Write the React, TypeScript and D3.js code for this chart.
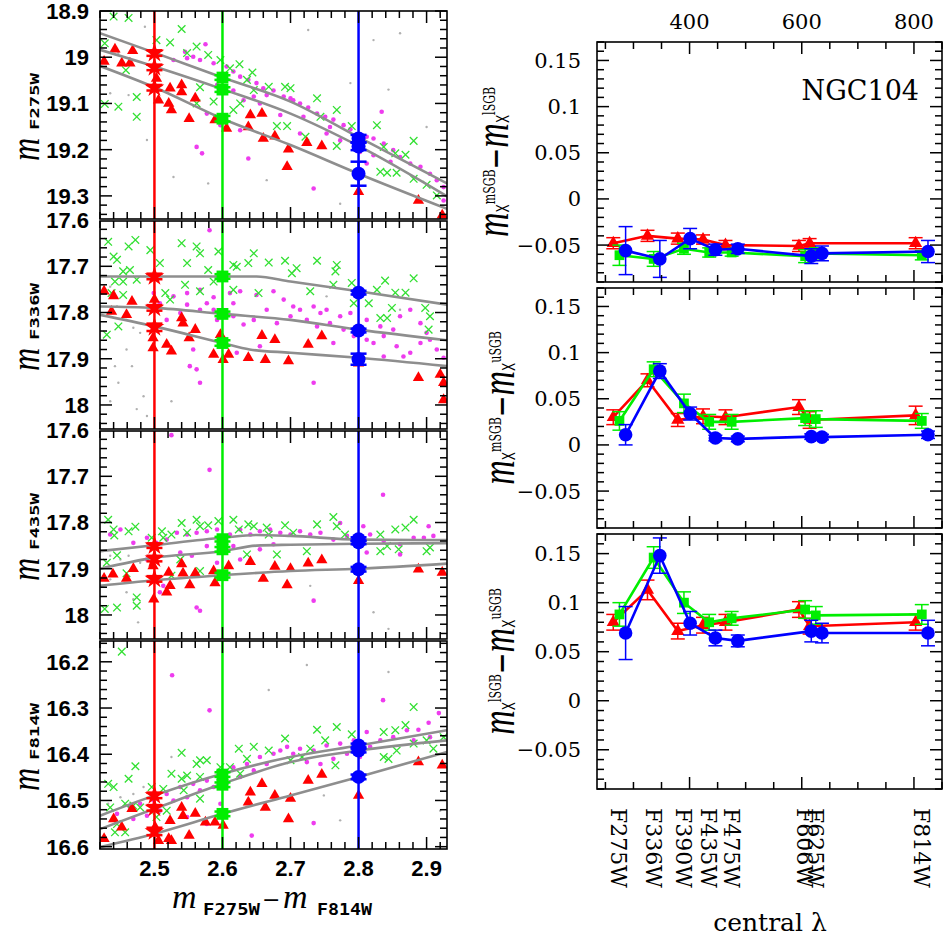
import React from "react";
import * as d3 from "d3";

// ---------------- DATA ----------------
// reference colours (m_F275W - m_F814W) of the three vertical lines
const refColors = [2.5, 2.6, 2.8];

// ---- left panel 1 : m_F275W ----
const f275Cross = [[2.440,18.912],[2.462,18.915],[2.540,18.939],[2.503,18.963],[2.523,18.968],[2.427,18.970],[2.458,19.028],[2.474,19.086],[2.447,19.107],[2.427,19.101],[2.474,19.129],[2.562,18.977],[2.548,18.991],[2.579,18.995],[2.597,19.006],[2.625,19.015],[2.644,19.033],[2.636,19.049],[2.611,19.024],[2.668,19.064],[2.692,19.064],[2.646,19.071],[2.700,19.067],[2.567,19.065],[2.562,19.100],[2.587,19.096],[2.616,19.114],[2.626,19.100],[2.680,19.149],[2.739,19.089],[2.744,19.129],[2.768,19.114],[2.695,19.149],[2.722,19.172],[2.768,19.192],[2.790,19.149],[2.827,19.147],[2.837,19.194],[2.854,19.208],[2.869,19.211],[2.881,19.181],[2.832,19.248],[2.842,19.250],[2.856,19.250],[2.881,19.263],[2.900,19.276],[2.915,19.299]];
const f275Dots = [[2.575,18.972],[2.545,18.988],[2.557,18.999],[2.567,19.006],[2.587,19.013],[2.606,19.020],[2.616,19.031],[2.626,19.042],[2.638,19.049],[2.650,19.056],[2.660,19.067],[2.675,19.072],[2.690,19.085],[2.700,19.089],[2.714,19.100],[2.726,19.109],[2.739,19.122],[2.751,19.129],[2.763,19.135],[2.778,19.147],[2.788,19.156],[2.812,19.172],[2.822,19.176],[2.837,19.187],[2.851,19.201],[2.861,19.216],[2.876,19.230],[2.891,19.237],[2.905,19.252],[2.915,19.266],[2.925,19.281],[2.925,19.310],[2.562,19.194],[2.570,19.208],[2.638,19.219],[2.734,19.284],[2.812,19.230],[2.834,19.118],[2.847,19.226],[2.592,19.060],[2.616,19.072],[2.655,19.100],[2.685,19.125],[2.704,19.093],[2.719,19.129],[2.758,19.151],[2.802,19.205],[2.822,19.212],[2.665,19.082],[2.606,19.049],[2.548,19.002],[2.528,19.006],[2.646,19.085],[2.631,19.093],[2.577,19.122],[2.597,19.147],[2.626,19.158],[2.714,19.165],[2.753,19.165],[2.773,19.180]];
const f275Tri = [[2.426,19.009],[2.442,18.983],[2.452,19.013],[2.464,19.013],[2.468,18.986],[2.503,19.046],[2.506,19.093],[2.521,19.100],[2.523,19.067],[2.525,19.114],[2.540,19.060],[2.540,19.075],[2.551,19.133],[2.560,19.089],[2.589,19.136],[2.606,19.154],[2.638,19.151],[2.641,19.125],[2.658,19.122],[2.660,19.176],[2.677,19.171],[2.697,19.199],[2.695,19.237],[2.724,19.185],[2.746,19.192],[2.800,19.291],[2.888,19.310],[2.923,19.342]];
const f275Gray = [[2.486,18.934],[2.726,18.941],[2.844,19.070],[2.822,18.963],[2.528,19.259],[2.665,19.266],[2.579,19.273],[2.773,19.317],[2.462,19.082],[2.447,18.991],[2.435,19.078],[2.489,19.179],[2.900,19.151],[2.788,19.056],[2.861,18.948]];
const f275Fid = [
  [[2.42,18.948],[2.5,18.990],[2.6,19.044],[2.7,19.096],[2.8,19.173],[2.93,19.273]],
  [[2.42,18.984],[2.5,19.020],[2.6,19.069],[2.7,19.122],[2.8,19.192],[2.93,19.301]],
  [[2.42,19.019],[2.5,19.065],[2.6,19.133],[2.7,19.190],[2.8,19.252],[2.93,19.328]],
];
const f275BigR = [[18.991,0.006],[19.022,0.006],[19.066,0.006]];
const f275BigG = [[19.044,0.005],[19.070,0.005],[19.133,0.006]];
const f275BigB = [[19.176,0.008],[19.193,0.008],[19.252,0.026]];

// ---- left panel 2 : m_F336W ----
const f336Cross = [[2.432,17.647],[2.462,17.657],[2.472,17.643],[2.440,17.679],[2.445,17.686],[2.454,17.711],[2.464,17.708],[2.442,17.733],[2.454,17.733],[2.474,17.729],[2.437,17.758],[2.454,17.762],[2.430,17.848],[2.447,17.830],[2.494,17.665],[2.508,17.693],[2.523,17.772],[2.516,17.758],[2.540,17.650],[2.548,17.693],[2.562,17.657],[2.567,17.672],[2.579,17.708],[2.594,17.668],[2.616,17.697],[2.621,17.701],[2.638,17.693],[2.646,17.672],[2.668,17.692],[2.692,17.688],[2.702,17.715],[2.709,17.704],[2.739,17.688],[2.768,17.697],[2.766,17.711],[2.763,17.740],[2.790,17.736],[2.815,17.780],[2.827,17.751],[2.839,17.731],[2.854,17.757],[2.869,17.757],[2.881,17.726],[2.849,17.790],[2.832,17.812],[2.842,17.812],[2.898,17.790],[2.903,17.837],[2.905,17.808],[2.653,17.758],[2.587,17.733],[2.616,17.751],[2.567,17.754],[2.729,17.754],[2.545,17.740],[2.793,17.780]];
const f336Dots = [[2.581,17.622],[2.499,17.758],[2.528,17.765],[2.548,17.758],[2.567,17.751],[2.587,17.767],[2.611,17.758],[2.626,17.754],[2.650,17.762],[2.675,17.754],[2.690,17.772],[2.704,17.787],[2.714,17.794],[2.734,17.787],[2.744,17.801],[2.753,17.794],[2.773,17.808],[2.788,17.801],[2.812,17.816],[2.832,17.830],[2.851,17.837],[2.861,17.808],[2.876,17.794],[2.891,17.823],[2.905,17.859],[2.915,17.880],[2.925,17.898],[2.518,17.816],[2.538,17.801],[2.548,17.783],[2.567,17.794],[2.577,17.780],[2.592,17.816],[2.616,17.808],[2.631,17.826],[2.646,17.816],[2.665,17.794],[2.680,17.823],[2.700,17.808],[2.724,17.816],[2.739,17.830],[2.758,17.823],[2.778,17.837],[2.793,17.851],[2.812,17.859],[2.822,17.866],[2.837,17.851],[2.856,17.873],[2.876,17.887],[2.891,17.866],[2.557,17.880],[2.552,17.916],[2.567,17.952],[2.562,17.923],[2.621,17.887],[2.655,17.873],[2.734,17.952],[2.763,17.866],[2.837,17.895],[2.866,17.895],[2.900,17.844],[2.508,17.780],[2.587,17.794],[2.616,17.780]];
const f336Tri = [[2.426,17.754],[2.440,17.764],[2.437,17.798],[2.459,17.805],[2.467,17.776],[2.500,17.772],[2.498,17.855],[2.498,17.877],[2.518,17.869],[2.525,17.884],[2.540,17.812],[2.542,17.823],[2.551,17.855],[2.560,17.837],[2.587,17.891],[2.597,17.848],[2.601,17.902],[2.609,17.891],[2.638,17.898],[2.663,17.902],[2.658,17.850],[2.677,17.859],[2.697,17.905],[2.726,17.869],[2.746,17.851],[2.800,17.910],[2.888,17.941],[2.920,17.934],[2.925,17.952],[2.925,17.989]];
const f336Gray = [[2.435,17.744],[2.445,17.787],[2.459,17.816],[2.469,17.833],[2.479,17.844],[2.442,17.916],[2.459,17.880],[2.447,17.952],[2.467,17.916],[2.484,17.981],[2.525,17.992],[2.474,18.009],[2.489,18.024],[2.435,17.992],[2.753,17.765],[2.861,17.794]];
const f336Fid = [
  [[2.42,17.722],[2.5,17.722],[2.6,17.722],[2.65,17.722],[2.7,17.733],[2.8,17.754],[2.93,17.783]],
  [[2.42,17.787],[2.5,17.790],[2.6,17.803],[2.7,17.816],[2.8,17.837],[2.93,17.860]],
  [[2.42,17.805],[2.5,17.830],[2.6,17.866],[2.64,17.880],[2.7,17.887],[2.8,17.898],[2.93,17.916]],
];
const f336BigR = [[17.722,0.006],[17.790,0.006],[17.832,0.008]];
const f336BigG = [[17.722,0.005],[17.803,0.005],[17.866,0.006]];
const f336BigB = [[17.757,0.004],[17.839,0.004],[17.901,0.012]];

// ---- left panel 3 : m_F435W ----
const f435Cross = [[2.432,17.794],[2.440,17.815],[2.441,17.828],[2.462,17.819],[2.472,17.809],[2.445,17.871],[2.430,17.887],[2.459,17.910],[2.427,17.987],[2.445,17.984],[2.474,17.962],[2.474,17.980],[2.496,17.833],[2.511,17.819],[2.513,17.833],[2.525,17.826],[2.540,17.801],[2.548,17.822],[2.562,17.794],[2.567,17.808],[2.579,17.806],[2.594,17.797],[2.616,17.794],[2.624,17.815],[2.638,17.804],[2.646,17.808],[2.665,17.811],[2.668,17.826],[2.692,17.806],[2.704,17.822],[2.739,17.804],[2.763,17.788],[2.768,17.808],[2.780,17.826],[2.832,17.826],[2.854,17.815],[2.869,17.811],[2.881,17.794],[2.842,17.851],[2.859,17.858],[2.832,17.862],[2.905,17.854],[2.900,17.862],[2.724,17.862],[2.680,17.869],[2.636,17.869],[2.567,17.905],[2.525,17.915],[2.538,17.880]];
const f435Dots = [[2.525,17.611],[2.581,17.686],[2.836,17.740],[2.435,17.826],[2.450,17.815],[2.469,17.844],[2.489,17.833],[2.503,17.844],[2.518,17.837],[2.533,17.822],[2.548,17.826],[2.562,17.822],[2.577,17.819],[2.592,17.815],[2.611,17.826],[2.626,17.815],[2.641,17.826],[2.655,17.819],[2.670,17.815],[2.685,17.822],[2.700,17.826],[2.714,17.819],[2.729,17.826],[2.744,17.822],[2.763,17.837],[2.783,17.829],[2.802,17.837],[2.817,17.826],[2.837,17.840],[2.861,17.847],[2.881,17.833],[2.896,17.833],[2.910,17.829],[2.903,17.808],[2.655,17.858],[2.626,17.880],[2.592,17.887],[2.555,17.872],[2.538,17.865],[2.513,17.937],[2.508,17.951],[2.562,17.984],[2.567,17.991],[2.734,17.969],[2.812,17.865],[2.861,17.869],[2.773,17.801],[2.807,17.808],[2.675,17.847],[2.616,17.851],[2.577,17.851],[2.499,17.894],[2.489,17.880]];
const f435Tri = [[2.426,17.921],[2.439,17.912],[2.459,17.921],[2.469,17.900],[2.498,17.894],[2.499,17.966],[2.521,17.908],[2.523,17.937],[2.518,17.951],[2.540,17.890],[2.542,17.910],[2.552,17.935],[2.560,17.910],[2.587,17.905],[2.589,17.931],[2.609,17.894],[2.641,17.885],[2.660,17.921],[2.677,17.895],[2.695,17.935],[2.700,17.900],[2.726,17.888],[2.746,17.881],[2.800,17.926],[2.888,17.901],[2.923,17.908]];
const f435Gray = [[2.435,17.872],[2.450,17.880],[2.462,17.872],[2.479,17.887],[2.459,17.951],[2.469,17.966],[2.476,18.016],[2.435,17.923],[2.822,17.994],[2.844,18.030],[2.729,17.937]];
const f435Fid = [
  [[2.42,17.862],[2.5,17.849],[2.6,17.833],[2.65,17.827],[2.7,17.829],[2.8,17.837],[2.93,17.838]],
  [[2.42,17.900],[2.5,17.876],[2.6,17.862],[2.65,17.850],[2.7,17.848],[2.8,17.846],[2.93,17.845]],
  [[2.42,17.937],[2.5,17.925],[2.6,17.914],[2.7,17.905],[2.8,17.900],[2.93,17.889]],
];
const f435BigR = [[17.850,0.005],[17.878,0.006],[17.922,0.006]];
const f435BigG = [[17.836,0.005],[17.858,0.005],[17.914,0.005]];
const f435BigB = [[17.836,0.004],[17.843,0.004],[17.901,0.005]];

// ---- left panel 4 : m_F814W ----
const f814Cross = [[2.452,16.178],[2.432,16.464],[2.440,16.471],[2.462,16.453],[2.472,16.426],[2.435,16.515],[2.457,16.507],[2.469,16.511],[2.479,16.515],[2.442,16.569],[2.457,16.569],[2.445,16.551],[2.496,16.471],[2.513,16.475],[2.525,16.442],[2.540,16.453],[2.540,16.397],[2.548,16.446],[2.562,16.421],[2.567,16.413],[2.577,16.413],[2.597,16.428],[2.611,16.428],[2.624,16.388],[2.636,16.410],[2.646,16.384],[2.668,16.392],[2.692,16.366],[2.700,16.413],[2.717,16.406],[2.729,16.388],[2.739,16.347],[2.768,16.341],[2.751,16.370],[2.766,16.424],[2.790,16.357],[2.837,16.352],[2.854,16.348],[2.869,16.337],[2.881,16.298],[2.881,16.377],[2.837,16.406],[2.844,16.410],[2.856,16.392],[2.900,16.370],[2.925,16.363],[2.910,16.388],[2.626,16.442],[2.567,16.449],[2.543,16.478],[2.567,16.496],[2.518,16.522],[2.503,16.536]];
const f814Dots = [[2.526,16.229],[2.581,16.305],[2.836,16.283],[2.918,16.311],[2.903,16.332],[2.888,16.347],[2.812,16.352],[2.793,16.370],[2.773,16.377],[2.753,16.381],[2.734,16.392],[2.714,16.388],[2.695,16.384],[2.675,16.399],[2.655,16.406],[2.636,16.421],[2.616,16.428],[2.597,16.442],[2.577,16.457],[2.557,16.464],[2.538,16.471],[2.518,16.486],[2.499,16.500],[2.479,16.507],[2.464,16.515],[2.445,16.529],[2.871,16.348],[2.851,16.363],[2.832,16.370],[2.817,16.384],[2.802,16.406],[2.783,16.399],[2.763,16.410],[2.744,16.421],[2.724,16.417],[2.704,16.399],[2.685,16.392],[2.665,16.421],[2.646,16.435],[2.626,16.449],[2.606,16.464],[2.587,16.471],[2.567,16.478],[2.548,16.493],[2.528,16.500],[2.508,16.522],[2.489,16.533],[2.469,16.540],[2.734,16.549],[2.643,16.576],[2.577,16.551],[2.881,16.370],[2.905,16.363],[2.548,16.536],[2.597,16.507]];
const f814Tri = [[2.426,16.583],[2.440,16.540],[2.452,16.558],[2.467,16.518],[2.501,16.558],[2.506,16.587],[2.521,16.583],[2.525,16.587],[2.523,16.544],[2.540,16.515],[2.542,16.533],[2.551,16.576],[2.560,16.528],[2.575,16.547],[2.589,16.547],[2.601,16.554],[2.638,16.504],[2.641,16.482],[2.658,16.464],[2.663,16.515],[2.677,16.489],[2.697,16.540],[2.700,16.496],[2.726,16.457],[2.746,16.444],[2.800,16.489],[2.888,16.417],[2.923,16.424]];
const f814Gray = [[2.432,16.507],[2.450,16.493],[2.469,16.486],[2.484,16.471],[2.525,16.406],[2.724,16.207],[2.668,16.261],[2.844,16.222],[2.773,16.543],[2.749,16.489],[2.920,16.522]];
const f814Fid = [
  [[2.42,16.533],[2.5,16.489],[2.6,16.442],[2.7,16.406],[2.8,16.381],[2.93,16.348]],
  [[2.42,16.562],[2.5,16.518],[2.6,16.464],[2.7,16.417],[2.8,16.392],[2.93,16.370]],
  [[2.42,16.601],[2.5,16.572],[2.6,16.529],[2.7,16.489],[2.8,16.449],[2.93,16.395]],
];
const f814BigR = [[16.489,0.006],[16.516,0.006],[16.567,0.008]];
const f814BigG = [[16.444,0.005],[16.466,0.005],[16.529,0.005]];
const f814BigB = [[16.381,0.004],[16.392,0.004],[16.449,0.005]];

const leftNames = ["F275W", "F336W", "F435W", "F814W"];
const leftYTickLabels = [
  [18.9, 19, 19.1, 19.2, 19.3],
  [17.6, 17.7, 17.8, 17.9, 18],
  [17.6, 17.7, 17.8, 17.9, 18],
  [16.2, 16.3, 16.4, 16.5, 16.6],
];
const leftXTickLabels = [2.5, 2.6, 2.7, 2.8, 2.9];

// ---- right panels : magnitude differences vs central wavelength ----
const filters = ["F275W", "F336W", "F390W", "F435W", "F475W", "F606W", "F625W", "F814W"];
const lambdas = [275, 336, 390, 435, 475, 606, 625, 814];
const lambdaTickLabels = [400, 600, 800];
const rightYTickLabels = [0.15, 0.1, 0.05, 0, -0.05];

// panel 1: mSGB - lSGB
const d1Red = [-0.048, -0.040, -0.043, -0.044, -0.050, -0.051, -0.048, -0.048];
const d1RedErr = [0.006, 0.006, 0.006, 0.005, 0.005, 0.006, 0.005, 0.006];
const d1Green = [-0.061, -0.065, -0.054, -0.058, -0.058, -0.062, -0.059, -0.061];
const d1GreenErr = [0.011, 0.008, 0.006, 0.005, 0.004, 0.007, 0.006, 0.005];
const d1Blue = [-0.056, -0.065, -0.043, -0.055, -0.054, -0.062, -0.059, -0.057];
const d1BlueErr = [0.026, 0.020, 0.011, 0.006, 0.005, 0.008, 0.008, 0.012];
// panel 2: mSGB - uSGB
const d2Red = [0.030, 0.070, 0.027, 0.031, 0.030, 0.041, 0.027, 0.032];
const d2RedErr = [0.008, 0.007, 0.007, 0.008, 0.008, 0.008, 0.009, 0.010];
const d2Green = [0.026, 0.082, 0.045, 0.025, 0.025, 0.029, 0.028, 0.026];
const d2GreenErr = [0.010, 0.008, 0.010, 0.008, 0.008, 0.008, 0.009, 0.008];
const d2Blue = [0.011, 0.080, 0.034, 0.0075, 0.0065, 0.009, 0.0085, 0.011];
const d2BlueErr = [0.011, 0.008, 0.007, 0.003, 0.003, 0.003, 0.003, 0.004];
// panel 3: lSGB - uSGB
const d3Red = [0.080, 0.113, 0.071, 0.077, 0.080, 0.093, 0.076, 0.080];
const d3RedErr = [0.008, 0.010, 0.008, 0.008, 0.008, 0.008, 0.008, 0.008];
const d3Green = [0.088, 0.146, 0.100, 0.080, 0.084, 0.093, 0.087, 0.088];
const d3GreenErr = [0.012, 0.011, 0.011, 0.008, 0.007, 0.009, 0.009, 0.010];
const d3Blue = [0.069, 0.148, 0.079, 0.064, 0.061, 0.071, 0.069, 0.069];
const d3BlueErr = [0.027, 0.018, 0.012, 0.008, 0.006, 0.011, 0.010, 0.013];

const rightTitles = [["mSGB", "lSGB"], ["mSGB", "uSGB"], ["lSGB", "uSGB"]];

// ---------------- LAYOUT / STYLE ----------------
const RED = "#ff0000", GREEN = "#00ee00", BLUE = "#0000ff";
const LX0 = 100, LX1 = 447;
const leftRows = [[11, 219], [221, 429], [431, 639], [641, 849]];
const leftDomains = [[18.9, 19.35], [17.602, 18.052], [17.602, 18.052], [16.155, 16.605]];
const RX0 = 597, RX1 = 942;
const rightRows = [[42, 282], [288, 528], [534, 789]];
const rightYDomain = [-0.09, 0.17];
const seriesOffsetNm = [-11, 0, 11];

const xL = d3.scaleLinear().domain([2.42, 2.93]).range([LX0, LX1]);
const xR = d3.scaleLinear().domain([235, 850]).range([RX0, RX1]);

function stepRange(a: number, b: number, s: number) {
  const out: number[] = [];
  const k0 = Math.ceil(a / s - 1e-6);
  for (let k = k0; k * s <= b + 1e-9; k++) out.push(+(k * s).toFixed(6));
  return out;
}
const isMult = (v: number, s: number) => Math.abs(v / s - Math.round(v / s)) < 1e-6;
const sym = (t: any, size: number) => d3.symbol().type(t).size(size)() as string;

const leftPanels = [
  { cross: f275Cross, dots: f275Dots, tri: f275Tri, gray: f275Gray, fid: f275Fid, big: [f275BigR, f275BigG, f275BigB] },
  { cross: f336Cross, dots: f336Dots, tri: f336Tri, gray: f336Gray, fid: f336Fid, big: [f336BigR, f336BigG, f336BigB] },
  { cross: f435Cross, dots: f435Dots, tri: f435Tri, gray: f435Gray, fid: f435Fid, big: [f435BigR, f435BigG, f435BigB] },
  { cross: f814Cross, dots: f814Dots, tri: f814Tri, gray: f814Gray, fid: f814Fid, big: [f814BigR, f814BigG, f814BigB] },
];
const rightPanels = [
  { vals: [d1Red, d1Green, d1Blue], errs: [d1RedErr, d1GreenErr, d1BlueErr] },
  { vals: [d2Red, d2Green, d2Blue], errs: [d2RedErr, d2GreenErr, d2BlueErr] },
  { vals: [d3Red, d3Green, d3Blue], errs: [d3RedErr, d3GreenErr, d3BlueErr] },
];

const fmt = (v: number) => String(+v.toFixed(2)).replace("-", "\u2212");

function LeftPanel({ p, i }: any) {
  const [top, bot] = leftRows[i];
  const dom = leftDomains[i];
  const y = d3.scaleLinear().domain(dom).range([top, bot]);
  const line = d3.line<any>().x((d) => xL(d[0])).y((d) => y(d[1])).curve(d3.curveMonotoneX);
  const clipId = `lclip${i}`;
  const xt = stepRange(2.42, 2.93, 0.02);
  const yt = stepRange(dom[0], dom[1], 0.02);
  const cols = [RED, GREEN, BLUE];
  const shapes = [sym(d3.symbolStar, 120), sym(d3.symbolSquare, 140), null];
  const tri = sym(d3.symbolTriangle, 55);
  const cy = (top + bot) / 2;
  return (
    <g>
      <defs>
        <clipPath id={clipId}>
          <rect x={LX0} y={top} width={LX1 - LX0} height={bot - top} />
        </clipPath>
      </defs>
      <g clipPath={`url(#${clipId})`}>
        {p.gray.map((d: any, k: number) => (
          <circle key={"g" + k} cx={xL(d[0])} cy={y(d[1])} r={1.2} fill="#b0b0b0" />
        ))}
        {p.dots.map((d: any, k: number) => (
          <circle key={"m" + k} cx={xL(d[0])} cy={y(d[1])} r={2.3} fill="#ee3cee" />
        ))}
        {p.cross.map((d: any, k: number) => (
          <path key={"c" + k} transform={`translate(${xL(d[0])},${y(d[1])})`} d="M-3.8,-3.8L3.8,3.8M-3.8,3.8L3.8,-3.8" stroke="#33e033" strokeWidth={1.3} fill="none" />
        ))}
        {p.tri.map((d: any, k: number) => (
          <path key={"t" + k} transform={`translate(${xL(d[0])},${y(d[1])})`} d={tri} fill={RED} />
        ))}
        {p.fid.map((f: any, k: number) => (
          <path key={"f" + k} d={line(f) as string} fill="none" stroke="#8e8e8e" strokeWidth={2.6} />
        ))}
        {refColors.map((c, k) => (
          <line key={"v" + k} x1={xL(c)} x2={xL(c)} y1={top} y2={bot} stroke={cols[k]} strokeWidth={2.5} />
        ))}
        {p.big.map((arr: any, k: number) =>
          arr.map((d: any, j: number) => {
            const X = xL(refColors[k]);
            const y1 = y(d[0] - d[1]), y2 = y(d[0] + d[1]);
            return (
              <g key={`b${k}-${j}`}>
                <line x1={X} x2={X} y1={y1} y2={y2} stroke={cols[k]} strokeWidth={2.5} />
                <line x1={X - 8} x2={X + 8} y1={y1} y2={y1} stroke={cols[k]} strokeWidth={2.5} />
                <line x1={X - 8} x2={X + 8} y1={y2} y2={y2} stroke={cols[k]} strokeWidth={2.5} />
                {shapes[k] ? (
                  <path transform={`translate(${X},${y(d[0])})`} d={shapes[k] as string} fill={cols[k]} />
                ) : (
                  <circle cx={X} cy={y(d[0])} r={7} fill={cols[k]} />
                )}
              </g>
            );
          })
        )}
      </g>
      <rect x={LX0} y={top} width={LX1 - LX0} height={bot - top} fill="none" stroke="#000" strokeWidth={1.6} />
      {xt.map((t, k) => {
        const len = isMult(t, 0.1) ? 12 : 7;
        const X = xL(t);
        return (
          <g key={"xt" + k}>
            <line x1={X} x2={X} y1={bot} y2={bot - len} stroke="#000" strokeWidth={1.5} />
            <line x1={X} x2={X} y1={top} y2={top + len} stroke="#000" strokeWidth={1.5} />
          </g>
        );
      })}
      {yt.map((t, k) => {
        const len = isMult(t, 0.1) ? 12 : 7;
        const Y = y(t);
        return (
          <g key={"yt" + k}>
            <line x1={LX0} x2={LX0 + len} y1={Y} y2={Y} stroke="#000" strokeWidth={1.5} />
            <line x1={LX1} x2={LX1 - len} y1={Y} y2={Y} stroke="#000" strokeWidth={1.5} />
          </g>
        );
      })}
      {leftYTickLabels[i].map((t, k) => (
        <text key={"yl" + k} x={89} y={y(t)} dy="0.36em" textAnchor="end" fontFamily="Liberation Sans" fontWeight="bold" fontSize={22} fill="#000">
          {String(t)}
        </text>
      ))}
      {i === 3 &&
        leftXTickLabels.map((t, k) => (
          <text key={"xl" + k} x={xL(t)} y={876} textAnchor="middle" fontFamily="Liberation Sans" fontWeight="bold" fontSize={22} fill="#000">
            {t.toFixed(1)}
          </text>
        ))}
      <g transform={`translate(39,${cy + 46}) rotate(-90) scale(1,1.35)`}>
        <text x={0} y={0} fontFamily="Liberation Serif" fontStyle="italic" fontSize={32} fill="#000">m</text>
      </g>
      <g transform={`translate(39,${cy + 15}) rotate(-90)`}>
        <text x={0} y={0} fontFamily="DejaVu Sans Mono" fontWeight="bold" fontSize={13} textLength={57} lengthAdjust="spacingAndGlyphs" fill="#000">
          {leftNames[i]}
        </text>
      </g>
    </g>
  );
}

function RightPanel({ p, i }: any) {
  const [top, bot] = rightRows[i];
  const y = d3.scaleLinear().domain(rightYDomain).range([bot, top]);
  const cols = [RED, GREEN, BLUE];
  const xt = stepRange(250, 850, 50);
  const yt = stepRange(rightYDomain[0], rightYDomain[1], 0.01);
  const line = d3.line<any>().x((d) => d[0]).y((d) => d[1]);
  const tri = sym(d3.symbolTriangle, 75);
  const sq = sym(d3.symbolSquare, 95);
  const cy = (top + bot) / 2;
  const bx = i === 0 ? 508 : 514;
  const [sup1, sup2] = rightTitles[i];
  return (
    <g>
      {p.vals.map((vals: number[], s: number) => {
        const pts = vals.map((v, k) => [xR(lambdas[k] + seriesOffsetNm[s]), y(v)]);
        return (
          <g key={"s" + s}>
            <path d={line(pts) as string} fill="none" stroke={cols[s]} strokeWidth={2.6} />
            {pts.map((pt, k) => {
              const e = p.errs[s][k];
              const y1 = y(vals[k] - e), y2 = y(vals[k] + e);
              return (
                <g key={"e" + k}>
                  <line x1={pt[0]} x2={pt[0]} y1={y1} y2={y2} stroke={cols[s]} strokeWidth={1.5} />
                  <line x1={pt[0] - 7} x2={pt[0] + 7} y1={y1} y2={y1} stroke={cols[s]} strokeWidth={1.5} />
                  <line x1={pt[0] - 7} x2={pt[0] + 7} y1={y2} y2={y2} stroke={cols[s]} strokeWidth={1.5} />
                  {s === 0 && <path transform={`translate(${pt[0]},${pt[1]})`} d={tri} fill={cols[s]} />}
                  {s === 1 && <path transform={`translate(${pt[0]},${pt[1]})`} d={sq} fill={cols[s]} />}
                  {s === 2 && <circle cx={pt[0]} cy={pt[1]} r={6.8} fill={cols[s]} />}
                </g>
              );
            })}
          </g>
        );
      })}
      <rect x={RX0} y={top} width={RX1 - RX0} height={bot - top} fill="none" stroke="#000" strokeWidth={1.6} />
      {xt.map((t, k) => {
        const len = isMult(t, 200) ? 12 : 7;
        const X = xR(t);
        return (
          <g key={"xt" + k}>
            <line x1={X} x2={X} y1={bot} y2={bot - len} stroke="#000" strokeWidth={1.5} />
            <line x1={X} x2={X} y1={top} y2={top + len} stroke="#000" strokeWidth={1.5} />
          </g>
        );
      })}
      {yt.map((t, k) => {
        const len = isMult(t, 0.05) ? 12 : 7;
        const Y = y(t);
        return (
          <g key={"yt" + k}>
            <line x1={RX0} x2={RX0 + len} y1={Y} y2={Y} stroke="#000" strokeWidth={1.5} />
            <line x1={RX1} x2={RX1 - len} y1={Y} y2={Y} stroke="#000" strokeWidth={1.5} />
          </g>
        );
      })}
      {rightYTickLabels.map((t, k) => (
        <text key={"yl" + k} x={581} y={y(t)} dy="0.36em" textAnchor="end" fontFamily="DejaVu Serif" fontSize={21} fill="#000">
          {fmt(t)}
        </text>
      ))}
      {i === 0 &&
        lambdaTickLabels.map((t, k) => (
          <text key={"tl" + k} x={xR(t)} y={29} textAnchor="middle" fontFamily="DejaVu Serif" fontSize={21} fill="#000">
            {String(t)}
          </text>
        ))}
      {i === 0 && (
        <text x={919} y={100} textAnchor="end" fontFamily="DejaVu Serif" fontSize={27} fill="#000">
          NGC104
        </text>
      )}
      {i === 2 &&
        filters.map((f, k) => (
          <g key={"fl" + k} transform={`translate(${xR(lambdas[k]) - 8},808) rotate(90)`}>
            <text x={0} y={0} fontFamily="DejaVu Serif" fontSize={22} textLength={80} lengthAdjust="spacingAndGlyphs" fill="#000">
              {f}
            </text>
          </g>
        ))}
      <g transform={`translate(${bx},${cy}) rotate(-90) scale(1,1.45)`}>
        <text x={0} y={0} textAnchor="middle" fill="#000" fontFamily="DejaVu Serif">
          <tspan fontFamily="Liberation Serif" fontStyle="italic" fontSize={34}>m</tspan>
          <tspan fontFamily="DejaVu Sans" fontSize={12} dy={0.5}>X</tspan>
          <tspan fontSize={11} dy={-9.5}>{sup1}</tspan>
          <tspan fontSize={26} dy={9}>{"\u2212"}</tspan>
          <tspan fontFamily="Liberation Serif" fontStyle="italic" fontSize={34}>m</tspan>
          <tspan fontFamily="DejaVu Sans" fontSize={12} dy={0.5}>X</tspan>
          <tspan fontSize={11} dy={-9.5}>{sup2}</tspan>
        </text>
      </g>
    </g>
  );
}

export default function App() {
  return (
    <svg width={943} height={939} viewBox="0 0 943 939" style={{ position: "absolute", left: 0, top: 0, background: "#fff" }}>
      <rect x={0} y={0} width={943} height={939} fill="#fff" />
      {leftPanels.map((p, i) => (
        <LeftPanel key={i} p={p} i={i} />
      ))}
      {rightPanels.map((p, i) => (
        <RightPanel key={i} p={p} i={i} />
      ))}
      {/* x-axis title left */}
      <text x={172} y={908} fontFamily="Liberation Serif" fontStyle="italic" fontSize={34} fill="#000">m</text>
      <text x={203} y={915} fontFamily="DejaVu Sans Mono" fontWeight="bold" fontSize={15} textLength={57} lengthAdjust="spacingAndGlyphs" fill="#000">F275W</text>
      <text x={262} y={907} fontFamily="DejaVu Sans" fontSize={22} fill="#000">{"\u2212"}</text>
      <text x={283} y={908} fontFamily="Liberation Serif" fontStyle="italic" fontSize={34} fill="#000">m</text>
      <text x={317} y={915} fontFamily="DejaVu Sans Mono" fontWeight="bold" fontSize={15} textLength={55} lengthAdjust="spacingAndGlyphs" fill="#000">F814W</text>
      {/* x-axis title right */}
      <text x={770} y={931} textAnchor="middle" fontFamily="DejaVu Serif" fontSize={25} fill="#000">central λ</text>
    </svg>
  );
}
